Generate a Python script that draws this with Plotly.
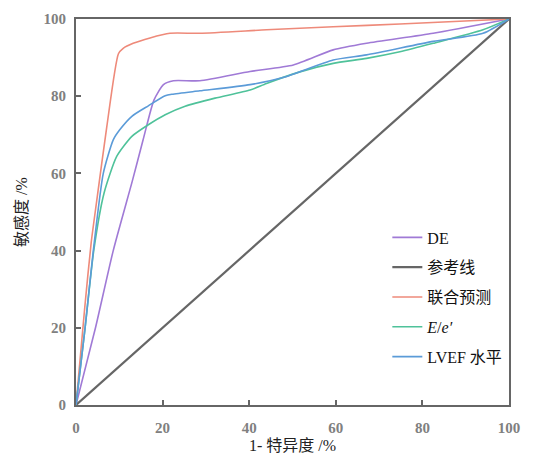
import plotly.graph_objects as go

ref_x = [0, 100]
ref_y = [0, 100]

comb_x = [0, 2, 3.5, 4.8, 7.1, 9.8, 10.9, 13.2, 17.1, 21.7, 28.6, 44, 59.4, 74.8, 100]
comb_y = [0, 25, 42, 53, 72, 91, 92.4, 93.7, 95.1, 96.3, 96.3, 97.2, 98, 98.7, 100]

de_x = [0, 4.5, 8.6, 13, 15.5, 18, 20.2, 22.5, 28.6, 40.2, 50.2, 59.4, 67.1, 82.5, 100]
de_y = [0, 20, 40, 58, 68.7, 79, 83, 84, 84, 86.4, 88.1, 92, 93.7, 96.3, 100]

ee_x = [0, 2.1, 4.1, 6.5, 9.4, 12.9, 16.7, 20.6, 25.2, 32.1, 40.2, 44, 51.7, 59.4, 67.1, 74.8, 82.5, 94, 100]
ee_y = [0, 20, 40, 55, 64.4, 69.6, 72.6, 75.2, 77.4, 79.5, 81.6, 83.3, 86.3, 88.5, 89.8, 91.5, 93.7, 97.2, 100]

lv_x = [0, 2.1, 4.0, 6.3, 8.6, 10.1, 12.9, 16.7, 20.6, 22.2, 28.6, 40.2, 48, 59.4, 67.1, 82.5, 94, 100]
lv_y = [0, 20, 40, 60, 68.7, 71.3, 74.8, 77.5, 80.1, 80.5, 81.4, 83, 84.9, 89.4, 90.7, 94.2, 96.3, 100]

tick_vals = [0, 20, 40, 60, 80, 100]
tick_text = ["0", "20", "40", "60", "80", "100"]

SERIF = "Liberation Serif, Times New Roman, serif"
CJK = "Liberation Serif, Noto Sans CJK SC, serif"

fig = go.Figure()
fig.add_trace(go.Scatter(x=de_x, y=de_y, name="DE", mode="lines", line=dict(color="#a07ad6", width=1.6, shape="spline", smoothing=0.6), legendgroup="a"))
fig.add_trace(go.Scatter(x=ref_x, y=ref_y, name="参考线", mode="lines", line=dict(color="#666666", width=2.2), legendgroup="b"))
fig.add_trace(go.Scatter(x=comb_x, y=comb_y, name="联合预测", mode="lines", line=dict(color="#ee8a7a", width=1.6, shape="spline", smoothing=0.6), legendgroup="c"))
fig.add_trace(go.Scatter(x=ee_x, y=ee_y, name="<i>E</i>/<i>e′</i>", mode="lines", line=dict(color="#4fc29a", width=1.6, shape="spline", smoothing=0.6), legendgroup="d"))
fig.add_trace(go.Scatter(x=lv_x, y=lv_y, name="LVEF 水平", mode="lines", line=dict(color="#5b9bd8", width=1.6, shape="spline", smoothing=0.6), legendgroup="e"))

axis_common = dict(
    range=[0, 100], tickvals=tick_vals, ticktext=tick_text,
    ticks="inside", ticklen=5, tickcolor="#666", tickwidth=1.5,
    showline=True, linecolor="#666", linewidth=2, mirror=True,
    showgrid=False, zeroline=False, automargin=False,
    tickfont=dict(family=SERIF, size=15, color="#808080", weight="bold"),
)

fig.update_layout(
    width=526, height=456,
    margin=dict(l=68, r=25, t=11, b=59),
    plot_bgcolor="white", paper_bgcolor="white",
    xaxis=dict(**axis_common, ticklabelstandoff=8,
               title=dict(text="1- 特异度 /%", font=dict(family=CJK, size=16, color="#222"), standoff=5)),
    yaxis=dict(**axis_common, ticklabelstandoff=5,
               title=dict(text="敏感度 /%", font=dict(family=CJK, size=16, color="#222"), standoff=12)),
    legend=dict(x=0.719, y=0.478, xanchor="left", yanchor="top", bgcolor="rgba(0,0,0,0)",
                font=dict(family=CJK, size=16, color="#111"),
                tracegroupgap=6, itemwidth=30),
    showlegend=True,
)

fig.write_html("out.html")
